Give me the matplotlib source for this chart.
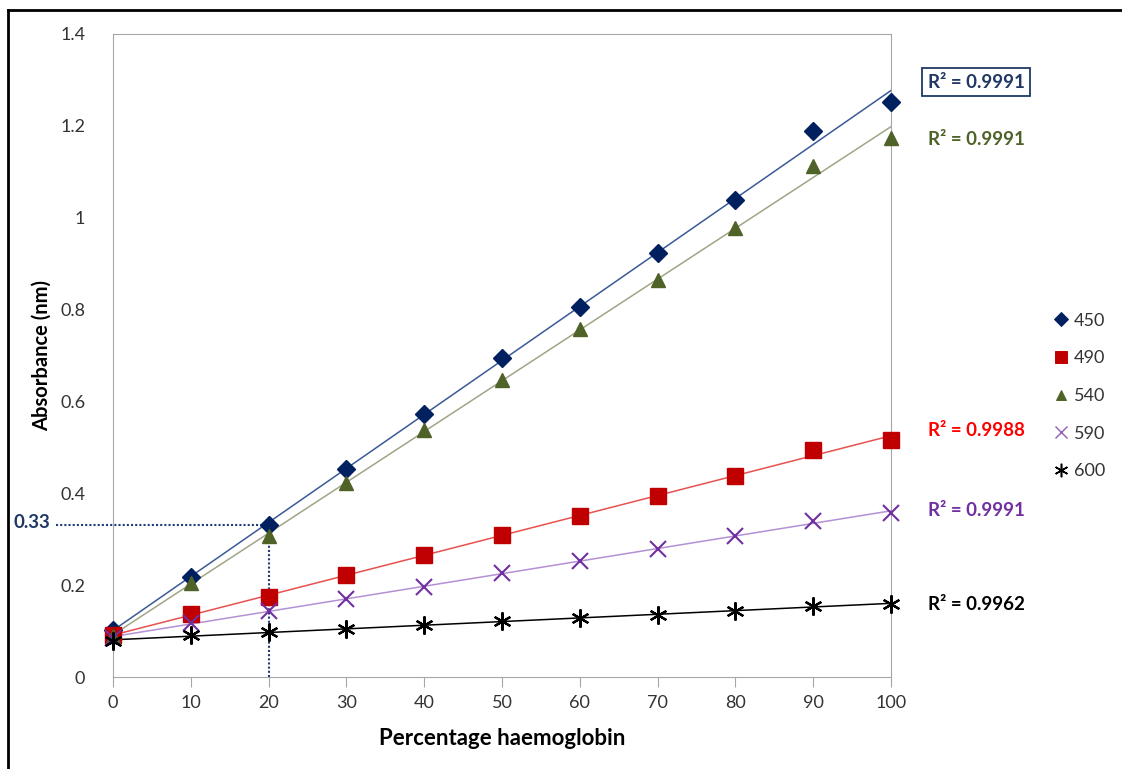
import numpy as np
import matplotlib.pyplot as plt
from matplotlib.lines import Line2D

plt.rcParams['font.family'] = ['Lato', 'DejaVu Sans']

# percentage haemoglobin
pct = [0, 10, 20, 30, 40, 50, 60, 70, 80, 90, 100]

# absorbance for each wavelength
a450 = [0.102, 0.218, 0.331, 0.453, 0.573, 0.695, 0.806, 0.923, 1.039, 1.189, 1.252]
a490 = [0.091, 0.137, 0.174, 0.222, 0.266, 0.309, 0.351, 0.394, 0.438, 0.494, 0.516]
a540 = [0.090, 0.205, 0.307, 0.422, 0.538, 0.647, 0.758, 0.864, 0.978, 1.113, 1.174]
a590 = [0.085, 0.118, 0.144, 0.170, 0.196, 0.226, 0.253, 0.279, 0.307, 0.340, 0.357]
a600 = [0.078, 0.091, 0.098, 0.105, 0.113, 0.122, 0.128, 0.135, 0.144, 0.155, 0.159]

r2_labels = ['R² = 0.9991', 'R² = 0.9988', 'R² = 0.9991', 'R² = 0.9991', 'R² = 0.9962']
r2_y = [1.295, 0.537, 1.171, 0.363, 0.158]

fig = plt.figure(figsize=(11.22, 7.69), dpi=100)
ax = fig.add_axes([0.1007, 0.1196, 0.6934, 0.8362])

series = [
    ('450', a450, 'D', '#002060', '#3b5998', 9, 1.0),
    ('490', a490, 's', '#c00000', '#e8514f', 12, 1.0),
    ('540', a540, '^', '#4f6228', '#a0a585', 10, 1.0),
    ('590', a590, 'x', '#7030a0', '#b491d4', 11, 1.5),
    ('600', a600, (6, 2, 0), '#000000', '#000000', 13, 1.6),
]
label_cols = ['#1f3864', '#ff0000', '#4f6228', '#7030a0', '#000000']

x = np.array(pct)
for i, (name, ys, mk, mc, lc, ms, mew) in enumerate(series):
    k, b = np.polyfit(x, ys, 1)
    ax.plot([0, 100], [b, k * 100 + b], color=lc, lw=1.1, zorder=2)
    ax.plot(x, ys, linestyle='none', marker=mk, color=mc, markersize=ms,
            markeredgewidth=mew, label=name, zorder=3, clip_on=False)
    bbox = None
    if i == 0:
        bbox = dict(boxstyle='square,pad=0.3', fc='white', ec='#1f3864', lw=1.3)
    ax.text(104.7, r2_y[i], r2_labels[i], color=label_cols[i], fontsize=13.5,
            fontweight='bold', va='center', ha='left', bbox=bbox, clip_on=False)

# dotted guide lines at 0.33
ax.plot([-7.3, 20], [0.33, 0.33], color='#1f3d7a', lw=1.5, ls=(0, (1, 1)),
        clip_on=False, zorder=2)
ax.plot([20, 20], [0, 0.33], color='#1f3d7a', lw=1.5, ls=(0, (1, 1)), zorder=2)
ax.text(-8.0, 0.336, '0.33', color='#1f3864', fontsize=13.5, fontweight='bold',
        ha='right', va='center', clip_on=False)

ax.set_xlim(0, 100)
ax.set_ylim(0, 1.4)
ax.set_xticks(pct)
ax.set_yticks([0, 0.2, 0.4, 0.6, 0.8, 1.0, 1.2, 1.4])
ax.set_yticklabels(['0', '0.2', '0.4', '0.6', '0.8', '1', '1.2', '1.4'])
for s in ax.spines.values():
    s.set_color('#a6a6a6')
ax.tick_params(axis='x', direction='out', length=7, color='#a6a6a6',
               labelsize=13, labelcolor='#333333', pad=6)
ax.tick_params(axis='y', length=0, labelsize=13, labelcolor='#333333', pad=20)
ax.set_xlabel('Percentage haemoglobin', fontsize=16, fontweight='bold', labelpad=12)
ax.set_ylabel('Absorbance (nm)', fontsize=14.5, fontweight='bold', labelpad=6)

handles = [Line2D([], [], ls='none', marker=m, color=mc, markersize=ms * 0.75,
                  markeredgewidth=mew * 0.7, alpha=0.75 if n == '590' else 1)
           for n, _, m, mc, _, ms, mew in series]
fig.legend(handles, [s[0] for s in series], loc='upper left',
           bbox_to_anchor=(0.925, 0.6145), frameon=False, fontsize=13,
           handlelength=0.8, handletextpad=0.3, labelspacing=1.2,
           labelcolor='#333333')

# outer chart frame
fig.add_artist(Line2D([0.0071, 1.0], [0.9876, 0.9876], color='black', lw=2))
fig.add_artist(Line2D([0.0071, 0.0071], [0.0, 0.9876], color='black', lw=2))

fig.savefig('out.png', dpi=100)
